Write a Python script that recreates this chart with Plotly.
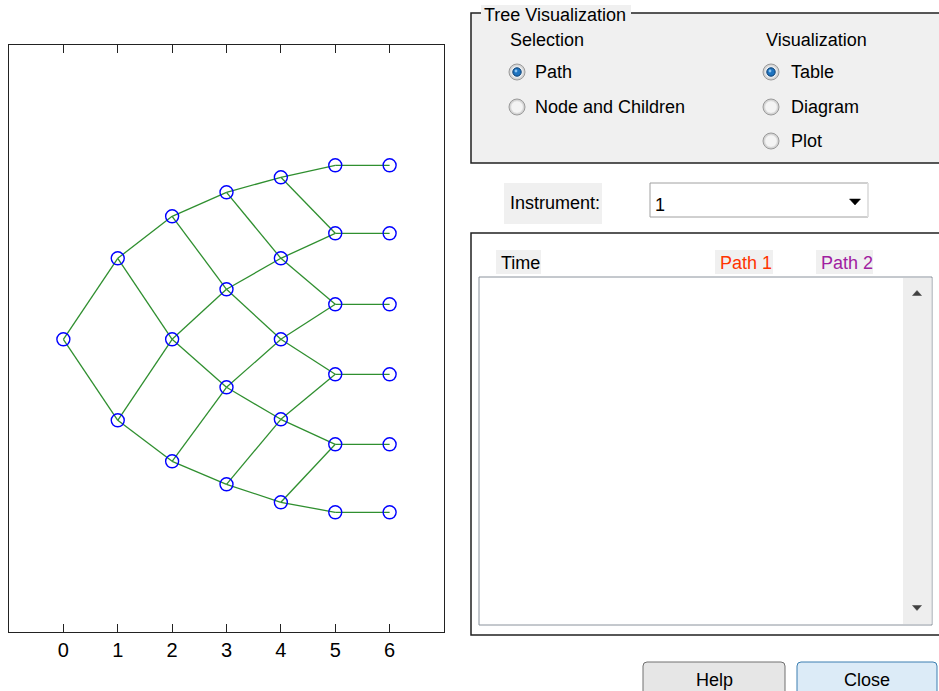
import plotly.graph_objects as go

W, H = 939, 691

# ---- data ----
times = [0, 1, 2, 3, 4, 5, 6]
tick_labels = ["0", "1", "2", "3", "4", "5", "6"]
level_t0 = [0.0]
level_t1 = [0.81, -0.81]
level_t2 = [1.23, 0.0, -1.22]
level_t3 = [1.47, 0.50, -0.48, -1.45]
level_t4 = [1.62, 0.81, 0.0, -0.80, -1.63]
level_t5 = [1.74, 1.06, 0.35, -0.35, -1.05, -1.73]
level_t6 = [1.74, 1.06, 0.35, -0.35, -1.05, -1.73]
levels = [level_t0, level_t1, level_t2, level_t3, level_t4, level_t5, level_t6]

sel_options = ["Path", "Node and Children"]
vis_options = ["Table", "Diagram", "Plot"]
table_headers = ["Time", "Path 1", "Path 2"]

LINE_GREEN = "#2f8f2f"

fig = go.Figure()

# edges (recombining tree)
ex, ey = [], []
for k in range(len(levels) - 1):
    cur, nxt = levels[k], levels[k + 1]
    for i, yv in enumerate(cur):
        if len(nxt) > len(cur):
            kids = [i, i + 1]
        else:
            kids = [i]
        for j in kids:
            ex += [times[k], times[k + 1], None]
            ey += [yv, nxt[j], None]
fig.add_trace(go.Scatter(x=ex, y=ey, mode="lines",
                         line=dict(color=LINE_GREEN, width=1.3),
                         hoverinfo="skip", showlegend=False))

nx, ny = [], []
for k, lv in enumerate(levels):
    for yv in lv:
        nx.append(times[k])
        ny.append(yv)
fig.add_trace(go.Scatter(x=nx, y=ny, mode="markers",
                         marker=dict(symbol="circle-open", size=13,
                                     color="#0000ff", line=dict(width=1.4, color="#0000ff")),
                         showlegend=False))


def px(x):
    return x / W


def py(y):
    return 1 - y / H


shapes = []
annots = []
FONT = "Liberation Sans"
FS = 18


def rect(x0, y0, x1, y1, fill=None, line="#000000", lw=1.0, layer="above"):
    shapes.append(dict(type="rect", xref="paper", yref="paper",
                       x0=px(x0), x1=px(x1), y0=py(y1), y1=py(y0),
                       fillcolor=fill if fill else "rgba(0,0,0,0)",
                       line=dict(color=line, width=lw), layer=layer))


def circle(cx, cy, r, fill, line, lw=1.0):
    shapes.append(dict(type="circle", xref="paper", yref="paper",
                       x0=px(cx - r), x1=px(cx + r), y0=py(cy + r), y1=py(cy - r),
                       fillcolor=fill, line=dict(color=line, width=lw), layer="above"))


def text(x, y, s, color="#000000", size=FS, anchor="left"):
    annots.append(dict(xref="paper", yref="paper", x=px(x), y=py(y), text=s,
                       showarrow=False, xanchor=anchor, yanchor="middle",
                       font=dict(family=FONT, size=size, color=color)))


def tri(cx, cy, w, h, up, color):
    if up:
        pts = [(cx - w / 2, cy + h / 2), (cx + w / 2, cy + h / 2), (cx, cy - h / 2)]
    else:
        pts = [(cx - w / 2, cy - h / 2), (cx + w / 2, cy - h / 2), (cx, cy + h / 2)]
    path = "M " + " L ".join(f"{px(a)},{py(b)}" for a, b in pts) + " Z"
    shapes.append(dict(type="path", xref="paper", yref="paper", path=path,
                       fillcolor=color, line=dict(color=color, width=0.5), layer="above"))


def rrect(x0, y0, x1, y1, r, fill, line, lw=1.0):
    p = (f"M {px(x0 + r)},{py(y0)} L {px(x1 - r)},{py(y0)} "
         f"Q {px(x1)},{py(y0)} {px(x1)},{py(y0 + r)} L {px(x1)},{py(y1 - r)} "
         f"Q {px(x1)},{py(y1)} {px(x1 - r)},{py(y1)} L {px(x0 + r)},{py(y1)} "
         f"Q {px(x0)},{py(y1)} {px(x0)},{py(y1 - r)} L {px(x0)},{py(y0 + r)} "
         f"Q {px(x0)},{py(y0)} {px(x0 + r)},{py(y0)} Z")
    shapes.append(dict(type="path", xref="paper", yref="paper", path=p,
                       fillcolor=fill, line=dict(color=line, width=lw), layer="above"))


def radio(cx, cy, selected):
    circle(cx, cy, 8, "#d4d4d4", "#9a9a9a", 1)
    circle(cx, cy, 6, "#f4f4f4" if not selected else "#e8eef4", "#e4e4e4", 0.5)
    if selected:
        circle(cx, cy, 4.2, "#1f74c0", "#0b3d6e", 1)
        circle(cx - 1, cy - 1, 1.4, "#8cc4f0", "#8cc4f0", 0)


# ---- Tree Visualization group box ----
rect(471, 13, 945, 163, fill="#f0f0f0", line="#202020", lw=1.5)
rect(481, 5, 631, 23, fill="#f0f0f0", line="#f0f0f0", lw=0)
text(482, 15, "Tree Visualization")
text(508, 40, "Selection")
text(764, 40, "Visualization")

sel_y = [72, 107]
for i, (lab, yy) in enumerate(zip(sel_options, sel_y)):
    radio(517, yy, i == 0)
    text(533, yy, lab)

vis_y = [72, 107, 141]
for i, (lab, yy) in enumerate(zip(vis_options, vis_y)):
    radio(771, yy, i == 0)
    text(789, yy, lab)

# ---- Instrument ----
rect(504, 183, 602, 224, fill="#f0f0f0", line="#f0f0f0", lw=0)
text(508, 203, "Instrument:")
rect(650, 183, 868, 217, fill="#ffffff", line="#a0a0a0", lw=1)
shapes.append(dict(type="line", xref="paper", yref="paper", x0=px(868), x1=px(868),
                   y0=py(183), y1=py(217), line=dict(color="#e8e8e8", width=1.5), layer="above"))
text(653, 205, "1")
tri(855, 202, 11, 6, False, "#000000")

# ---- table panel ----
rect(471, 233, 945, 635, fill="#ffffff", line="#202020", lw=1.5)
hdr_boxes = [(496, 541), (715, 773), (816, 873)]
hdr_colors = ["#000000", "#ff3300", "#a020a0"]
for (a, b), lab, col in zip(hdr_boxes, table_headers, hdr_colors):
    rect(a, 250, b, 274, fill="#f0f0f0", line="#f0f0f0", lw=0)
    text(a + 3, 263, lab, color=col)
rect(479, 277, 932, 625, fill="#ffffff", line="#8a929c", lw=1)
rect(903, 278, 931.5, 624, fill="#eeeeee", line="#eeeeee", lw=0)
tri(917, 293, 9, 5, True, "#404040")
tri(917, 608, 9, 5, False, "#404040")

# ---- buttons ----
rrect(643, 662, 785, 700, 4, "#e6e6e6", "#707070", 1)
text(714, 680, "Help", anchor="center")
rrect(797, 662, 937, 700, 4, "#dcebf7", "#3c7fb1", 1)
text(867, 680, "Close", anchor="center")

fig.update_layout(
    width=W, height=H,
    margin=dict(l=0, r=0, t=0, b=0),
    paper_bgcolor="#ffffff", plot_bgcolor="#ffffff",
    shapes=shapes, annotations=annots,
    showlegend=False,
    xaxis=dict(domain=[px(9), px(444)], range=[-1, 7],
               tickvals=times, ticktext=tick_labels,
               ticks="inside", ticklen=8, tickcolor="#222222", tickwidth=1,
               showline=True, linecolor="#222222", linewidth=1.3, mirror="ticks",
               showgrid=False, zeroline=False,
               tickfont=dict(family=FONT, size=20, color="#000000")),
    yaxis=dict(domain=[py(632), py(45)], range=[-2.927, 2.943],
               showticklabels=False, ticks="",
               showline=True, linecolor="#222222", linewidth=1.3, mirror=True,
               showgrid=False, zeroline=False),
)

fig.write_html("out.html", config={"displayModeBar": False},
               post_script="document.body.style.margin='0';document.body.style.overflow='hidden';")
